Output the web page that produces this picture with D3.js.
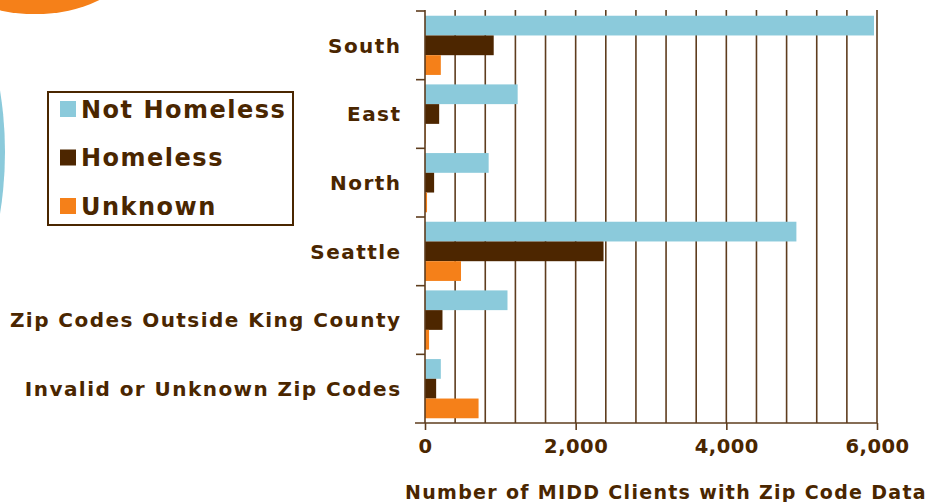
<!DOCTYPE html>
<html><head><meta charset="utf-8">
<script src="https://cdn.jsdelivr.net/npm/d3@7"></script>
<style>body{margin:0;background:#fff}svg{display:block}</style>
</head><body>
<svg id="c" width="941" height="502"></svg>
<script>
const categories = ["South","East","North","Seattle","Zip Codes Outside King County","Invalid or Unknown Zip Codes"];
const seriesNames = ["Not Homeless","Homeless","Unknown"];
const notHomeless = [5960,1230,845,4930,1095,210];
const homeless = [912,188,121,2370,232,148];
const unknown = [210,8,27,478,54,711];
const xTickValues = [0,2000,4000,6000];
const xTitle = "Number of MIDD Clients with Zip Code Data";

const colors = ["#8BCADB","#4D2600","#F58019"];
const ink = "#4A2600";
const font = "'DejaVu Sans', Verdana, sans-serif";
const values = [notHomeless, homeless, unknown];

const svg = d3.select("#c");
// decorations
svg.append("ellipse").attr("cx",35).attr("cy",-30).attr("rx",88).attr("ry",44).attr("fill","#F58019");
svg.append("circle").attr("cx",-380).attr("cy",152).attr("r",385).attr("fill","#8BCADB");
svg.append("circle").attr("cx",-380).attr("cy",152).attr("r",379).attr("fill","#fff");

const m = {l:425, r:877, t:11, b:423};
const x = d3.scaleLinear().domain([0,6000]).range([m.l,m.r]);
const y = d3.scaleBand().domain(categories).range([m.t,m.b]);
const yi = d3.scaleBand().domain(seriesNames).range([0,y.bandwidth()]).paddingOuter(0.24);

// gridlines every 400
const grid = d3.range(400,6001,400);
svg.append("g").selectAll("line").data(grid).join("line")
  .attr("x1",d=>x(d)).attr("x2",d=>x(d)).attr("y1",m.t-1).attr("y2",m.b)
  .attr("stroke","#5E3D1E").attr("stroke-width",1.6);

// bars
categories.forEach((c,i)=>{
  seriesNames.forEach((s,j)=>{
    const v = values[j][i];
    svg.append("rect").attr("x",x(0)).attr("y",y(c)+yi(s))
      .attr("width",Math.max(0,x(v)-x(0))).attr("height",yi.bandwidth())
      .attr("fill",colors[j]);
  });
});

// y axis
const yAxisG = svg.append("g");
yAxisG.append("line").attr("x1",x(0)).attr("x2",x(0)).attr("y1",m.t-1).attr("y2",m.b)
  .attr("stroke","#5E3D1E").attr("stroke-width",1.6);
const bounds = categories.map(c=>y(c));
yAxisG.selectAll("line.t").data(bounds).join("line").attr("class","t")
  .attr("x1",x(0)-9).attr("x2",x(0)).attr("y1",d=>d).attr("y2",d=>d)
  .attr("stroke","#5E3D1E").attr("stroke-width",1.6);
yAxisG.selectAll("text").data(categories).join("text")
  .attr("x",401.5).attr("y",d=>y(d)+y.bandwidth()/2).attr("dy","0.36em")
  .attr("text-anchor","end").attr("font-family",font).attr("font-weight","bold")
  .attr("font-size",20).attr("letter-spacing",1.45).attr("fill",ink).text(d=>d);

// x axis
const xAxis = d3.axisBottom(x).tickValues(xTickValues).tickSize(7).tickFormat(d3.format(","));
const xg = svg.append("g").attr("transform",`translate(0,${m.b})`).call(xAxis);
xg.select(".domain").remove();
xg.append("line").attr("x1",x(0)-10).attr("x2",x(6000)).attr("stroke","#5E3D1E").attr("stroke-width",1.6);
xg.selectAll(".tick line").attr("stroke","#5E3D1E").attr("stroke-width",1.6);
xg.selectAll(".tick text").attr("y",16).attr("font-family",font).attr("font-weight","bold")
  .attr("font-size",19.5).attr("letter-spacing",0.5).attr("fill",ink);
svg.append("text").attr("x",666).attr("y",499).attr("text-anchor","middle")
  .attr("font-family",font).attr("font-weight","bold").attr("font-size",19)
  .attr("letter-spacing",1.3).attr("fill",ink).text(xTitle);

// legend
const lg = svg.append("g");
lg.append("rect").attr("x",48).attr("y",92).attr("width",245).attr("height",133)
  .attr("fill","#fff").attr("stroke",ink).attr("stroke-width",2);
seriesNames.forEach((s,j)=>{
  const cy = 109 + j*48.5;
  lg.append("rect").attr("x",60).attr("y",cy-8).attr("width",16).attr("height",16).attr("fill",colors[j]);
  lg.append("text").attr("x",81).attr("y",cy).attr("dy","0.36em").attr("font-family",font)
    .attr("font-weight","bold").attr("font-size",24).attr("letter-spacing",1.5).attr("fill",ink).text(s);
});
</script>
</body></html>
